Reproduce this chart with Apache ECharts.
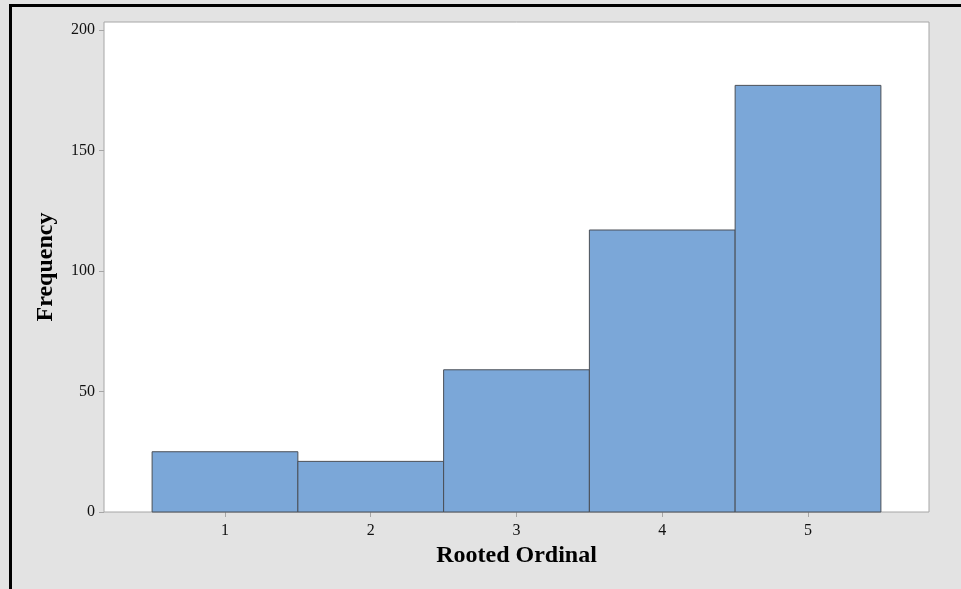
<!doctype html>
<html lang="en">
  <head>
    <meta charset="utf-8">
    <title>Rooted Ordinal histogram</title>
    <script src="https://cdn.jsdelivr.net/npm/echarts@6.0.0/dist/echarts.min.js"></script>
    <style>
      html, body { margin: 0; padding: 0; background: #e3e3e3; }
      #frame { position: absolute; left: 9px; top: 4px; width: 960px; height: 600px;
               border-left: 3px solid #000; border-top: 3px solid #000; pointer-events: none; }
      #chart { width: 961px; height: 589px; }
    </style>
  </head>
  <body>
    <div id="chart"></div>
    <div id="frame"></div>

  <script>
    // data
    var categories = [1, 2, 3, 4, 5];
    var frequency = [25, 21, 59, 117, 177];
    var yTicks = [0, 50, 100, 150, 200];

    var chart = echarts.init(document.getElementById('chart'), null, { renderer: 'canvas' });

    var barData = categories.map(function (c, i) { return [c, frequency[i]]; });

    var font = '"Liberation Serif", "DejaVu Serif", serif';

    var option = {
      backgroundColor: '#e3e3e3',
      animation: false,
      grid: {
        left: 104, top: 22, right: 32, bottom: 77,
        show: true,
        backgroundColor: '#ffffff',
        borderColor: '#a6a6a6',
        borderWidth: 1
      },
      xAxis: {
        type: 'value',
        min: 0.17,
        max: 5.83,
        name: 'Rooted Ordinal',
        nameLocation: 'middle',
        nameGap: 32,
        nameTextStyle: { fontFamily: font, fontWeight: 'bold', fontSize: 24, color: '#000' },
        axisLine: { show: false },
        splitLine: { show: false },
        axisTick: { show: true, length: 5, lineStyle: { color: '#a6a6a6' }, customValues: categories },
        axisLabel: { fontFamily: font, fontSize: 16, color: '#111', margin: 11, customValues: categories }
      },
      yAxis: {
        type: 'value',
        min: 0,
        max: 203.3,
        name: 'Frequency',
        nameLocation: 'middle',
        nameGap: 46,
        nameTextStyle: { fontFamily: font, fontWeight: 'bold', fontSize: 24, color: '#000' },
        axisLine: { show: false },
        splitLine: { show: false },
        axisTick: { show: true, length: 5, lineStyle: { color: '#a6a6a6' }, customValues: yTicks },
        axisLabel: { fontFamily: font, fontSize: 16, color: '#111', margin: 9, customValues: yTicks }
      },
      series: [
        {
          type: 'custom',
          data: barData,
          renderItem: function (params, api) {
            var x = api.value(0);
            var y = api.value(1);
            var p0 = api.coord([x - 0.5, y]);
            var p1 = api.coord([x + 0.5, 0]);
            return {
              type: 'rect',
              shape: { x: p0[0], y: p0[1], width: p1[0] - p0[0], height: p1[1] - p0[1] },
              style: { fill: '#7ba7d8', stroke: '#4a4f57', lineWidth: 1 }
            };
          }
        }
      ]
    };

    chart.setOption(option);
  </script>
  </body>
</html>
